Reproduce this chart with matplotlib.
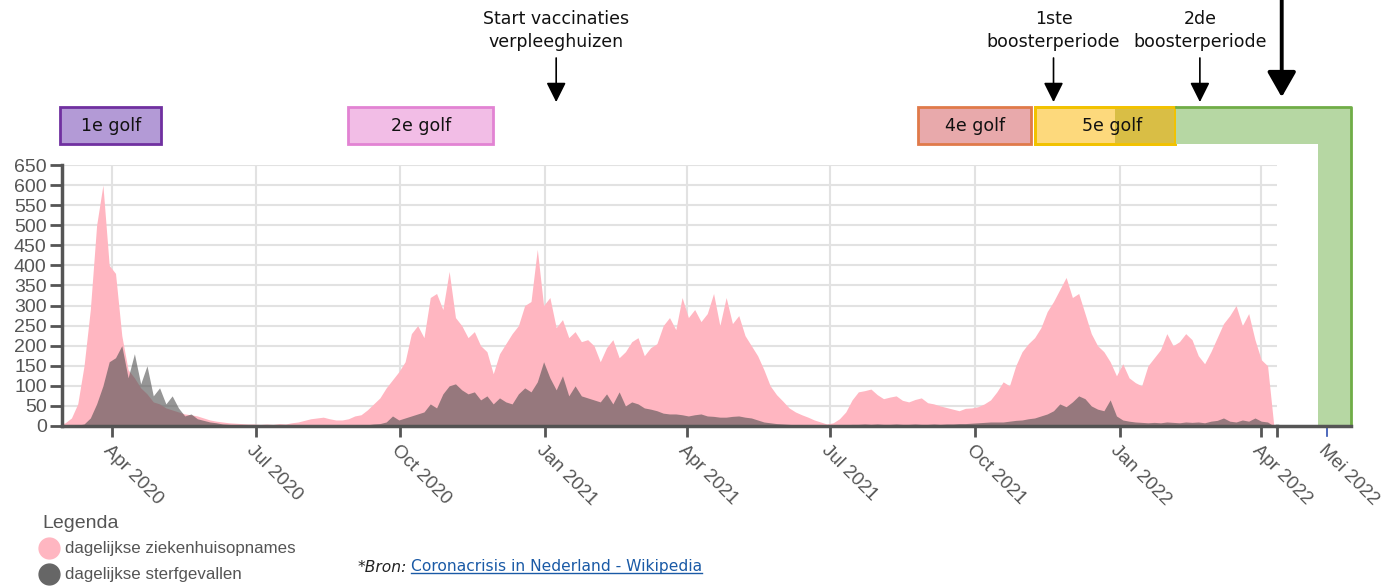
import numpy as np
import pandas as pd
import matplotlib
matplotlib.use("Agg")
import matplotlib.pyplot as plt
import matplotlib.dates as mdates
import matplotlib.transforms as mtransforms
from matplotlib.patches import Rectangle, Polygon
from matplotlib.lines import Line2D
from matplotlib.patches import ArrowStyle

# daily values, one sample every 4 days from 27 Feb 2020
adm = [3, 8, 20, 55, 150, 290, 500, 600, 400, 380,
       225, 140, 120, 95, 80, 60, 55, 45, 40, 35,
       30, 28, 25, 20, 15, 12, 10, 8, 7, 6,
       5, 5, 4, 5, 4, 6, 5, 8, 10, 14,
       18, 20, 22, 18, 15, 15, 18, 25, 28, 40,
       55, 70, 95, 115, 135, 160, 230, 250, 220, 320,
       330, 290, 385, 270, 250, 220, 235, 200, 185, 130,
       180, 205, 230, 250, 300, 310, 440, 300, 320, 245,
       265, 220, 235, 210, 215, 200, 160, 195, 215, 170,
       185, 210, 220, 175, 195, 205, 250, 270, 240, 320,
       270, 290, 260, 280, 330, 250, 320, 255, 275, 225,
       200, 175, 140, 100, 78, 62, 45, 35, 28, 22,
       15, 10, 5, 8, 18, 35, 65, 85, 88, 92,
       78, 68, 72, 75, 64, 60, 66, 70, 58, 55,
       50, 46, 42, 38, 44, 45, 48, 55, 65, 85,
       110, 100, 150, 185, 205, 220, 245, 285, 310, 340,
       370, 320, 330, 280, 230, 200, 185, 160, 125, 155,
       120, 108, 100, 150, 170, 190, 230, 200, 210, 230,
       215, 175, 155, 185, 220, 255, 275, 300, 250, 280,
       215, 165, 150, 0]
dth = [0, 0, 0, 2, 5, 20, 55, 100, 160, 170,
       200, 120, 180, 105, 150, 75, 95, 55, 75, 45,
       25, 30, 18, 14, 10, 8, 5, 4, 3, 3,
       2, 2, 2, 1, 1, 1, 1, 1, 1, 1,
       1, 1, 1, 1, 1, 2, 2, 2, 3, 3,
       5, 6, 10, 25, 15, 20, 25, 30, 35, 55,
       45, 80, 100, 105, 90, 80, 85, 65, 75, 55,
       70, 60, 55, 80, 95, 85, 110, 160, 120, 90,
       125, 75, 100, 75, 70, 65, 60, 80, 55, 85,
       50, 60, 55, 45, 42, 38, 32, 30, 30, 28,
       25, 28, 30, 25, 24, 22, 22, 24, 25, 22,
       20, 15, 10, 8, 6, 5, 4, 3, 3, 2,
       2, 2, 2, 2, 3, 3, 4, 4, 5, 4,
       5, 4, 4, 5, 4, 4, 5, 4, 4, 5,
       4, 5, 5, 6, 6, 7, 8, 9, 10, 10,
       10, 12, 14, 15, 18, 20, 25, 30, 38, 55,
       48, 60, 75, 68, 50, 42, 38, 65, 25, 15,
       12, 10, 9, 8, 9, 8, 10, 9, 8, 10,
       9, 10, 8, 12, 14, 20, 12, 10, 15, 12,
       20, 12, 10, 0]
dates = pd.date_range("2020-02-27", periods=len(adm), freq="4D")

tick_dates = ["2020-04-01", "2020-07-01", "2020-10-01", "2021-01-01", "2021-04-01",
              "2021-07-01", "2021-10-01", "2022-01-01", "2022-04-01"]
tick_labels = ["Apr 2020", "Jul 2020", "Oct 2020", "Jan 2021", "Apr 2021",
               "Jul 2021", "Oct 2021", "Jan 2022", "Apr 2022"]

wave_names = ["1e golf", "2e golf", "4e golf", "5e golf"]
wave_start = ["2020-02-28", "2020-08-29", "2021-08-26", "2021-11-08"]
wave_end = ["2020-05-02", "2020-11-29", "2021-11-06", "2022-02-05"]
wave_fill = ["#b39ad6", "#f2bde6", "#e8a9ab", "#fdd97c"]
wave_edge = ["#7030a0", "#e283d3", "#e07a4a", "#f2c200"]

event_dates = ["2021-01-08", "2021-11-20", "2022-02-21"]
event_labels = ["Start vaccinaties\nverpleeghuizen", "1ste\nboosterperiode", "2de\nboosterperiode"]


def num(s):
    return mdates.date2num(pd.Timestamp(s))


fig = plt.figure(figsize=(13.88, 5.87), dpi=100)
ax = fig.add_axes([62 / 1388, 1 - 426 / 587, (1277 - 62) / 1388, 261 / 587])

ax.fill_between(dates, adm, color="#ffb6c1", lw=0, zorder=2)
ax.fill_between(dates, dth, color="#505050", alpha=0.6, lw=0, zorder=3)

ax.set_xlim(num("2020-02-29"), num("2022-04-11"))
ax.set_ylim(0, 650)
ax.set_yticks(range(0, 651, 50))
ax.set_xticks([num(d) for d in tick_dates])
ax.set_xticklabels(tick_labels)
ax.set_xticks([num("2022-04-11")], minor=True)
ax.grid(True, color="#e2e2e2", lw=1.5, zorder=0)
for s in ["top", "right"]:
    ax.spines[s].set_visible(False)
for s in ["left", "bottom"]:
    ax.spines[s].set_color("#555555")
    ax.spines[s].set_linewidth(2.5)
ax.tick_params(axis="both", which="both", color="#555555", width=2, length=8,
               labelcolor="#555555")
ax.tick_params(axis="y", length=9, pad=2)
for lab in ax.get_yticklabels():
    lab.set_fontfamily("Liberation Sans")
    lab.set_fontsize(14)
for lab in ax.get_xticklabels():
    lab.set_fontfamily("Liberation Sans")
    lab.set_fontsize(13.5)
    lab.set_rotation(-45)
    lab.set_ha("left")
    lab.set_va("top")
    lab.set_rotation_mode("anchor")

tr = mtransforms.blended_transform_factory(ax.transData, ax.transAxes)

# axis line continues under the green block, with an extra "Mei 2022" tick
ax.plot([num("2022-04-11"), num("2022-05-28")], [0, 0], color="#555555", lw=2.5,
        transform=tr, clip_on=False, zorder=5)
mei = num("2022-05-13")
ax.plot([mei, mei], [0, -0.04], color="#3050b0", lw=1.2, transform=tr, clip_on=False)
ax.text(mei, -0.06, "Mei 2022", transform=tr, rotation=-45, ha="left", va="top",
        rotation_mode="anchor", fontsize=13.5, color="#555555", family="Liberation Sans")

# wave boxes above the chart
y0, y1 = 1.08, 1.222
for name, a, b, fc, ec in zip(wave_names, wave_start, wave_end, wave_fill, wave_edge):
    ax.add_patch(Rectangle((num(a), y0), num(b) - num(a), y1 - y0, transform=tr,
                           fc=fc, ec=ec, lw=2, clip_on=False, zorder=4))
ax.add_patch(Rectangle((num("2021-12-29"), y0), num("2022-02-05") - num("2021-12-29"), y1 - y0,
                       transform=tr, fc="#d9be45", ec="none", clip_on=False, zorder=4))
ax.add_patch(Rectangle((num("2021-11-08"), y0), num("2022-02-05") - num("2021-11-08"), y1 - y0,
                       transform=tr, fc="none", ec="#f2c200", lw=2, clip_on=False, zorder=4))
for name, a, b in zip(wave_names, wave_start, wave_end):
    xm = (num(a) + num(b)) / 2
    if name == "5e golf":
        xm += 5
    ax.text(xm, (y0 + y1) / 2, name, transform=tr, ha="center", va="center",
            fontsize=12.5, color="#111111", zorder=6)

# green L-shaped block
g0, g1, g2 = num("2022-02-06"), num("2022-05-07"), num("2022-05-28")
ax.add_patch(Polygon([(g0, y1), (g2, y1), (g2, 0), (g1, 0), (g1, y0), (g0, y0)],
                     closed=True, transform=tr, fc="#b6d7a3", ec="none",
                     clip_on=False, zorder=4))
ax.plot([g0, g2, g2], [y1, y1, 0], color="#70ad47", lw=2, transform=tr,
        clip_on=False, zorder=4)

# event arrows
for d, lab in zip(event_dates, event_labels):
    x = num(d)
    ax.annotate("", xy=(x, 1.241), xytext=(x, 1.41), xycoords=tr, textcoords=tr,
                arrowprops=dict(arrowstyle=ArrowStyle("-|>", head_length=0.6, head_width=0.3),
                                color="black", lw=1.2, mutation_scale=20, shrinkA=0, shrinkB=0))
    ax.text(x, 1.515, lab, transform=tr, ha="center", va="center", fontsize=12.5,
            linespacing=1.35, color="#111111")
xb = num("2022-04-14")
ax.annotate("", xy=(xb, 1.26), xytext=(xb, 1.67), xycoords=tr, textcoords=tr,
            arrowprops=dict(arrowstyle=ArrowStyle("-|>", head_length=0.7, head_width=0.4),
                            color="black", lw=2.8, mutation_scale=22, shrinkA=0, shrinkB=0))

# legend
fig.text(42 / 1388, 1 - 523 / 587, "Legenda", fontsize=14, color="#555555",
         family="Liberation Sans", va="center")
fig.add_artist(Line2D([49 / 1388], [1 - 548 / 587], marker="o", ms=15, color="#ffb6c1",
                      transform=fig.transFigure))
fig.add_artist(Line2D([49 / 1388], [1 - 574 / 587], marker="o", ms=15, color="#666666",
                      transform=fig.transFigure))
fig.text(65 / 1388, 1 - 548 / 587, "dagelijkse ziekenhuisopnames", fontsize=12.2,
         color="#555555", family="Liberation Sans", va="center")
fig.text(65 / 1388, 1 - 575 / 587, "dagelijkse sterfgevallen", fontsize=12.2,
         color="#555555", family="Liberation Sans", va="center")

# source
fig.text(358 / 1388, 1 - 567 / 587, "*Bron:", fontsize=11.2, style="italic",
         color="#222222", va="center")
link = fig.text(411 / 1388, 1 - 567 / 587, "Coronacrisis in Nederland - Wikipedia",
                fontsize=11.2, color="#1a5aa6", va="center")
fig.canvas.draw()
bb = link.get_window_extent().transformed(fig.transFigure.inverted())
fig.add_artist(Line2D([bb.x0, bb.x1], [bb.y0 + 0.002, bb.y0 + 0.002], color="#1a5aa6",
                      lw=1, transform=fig.transFigure))

fig.savefig("out.png", dpi=100)
